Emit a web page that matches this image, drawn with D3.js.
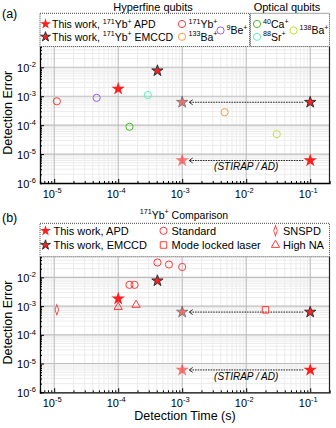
<!DOCTYPE html>
<html>
<head>
<meta charset="utf-8">
<script src="https://cdn.jsdelivr.net/npm/d3@7"></script>
<style>
  body { margin: 0; background: #fff; }
  svg { display: block; font-family: "Liberation Sans", Arial, sans-serif; }
</style>
</head>
<body>
<div id="chart"></div>
<script>
// ---- data ----
var xTicks = [1e-5, 1e-4, 1e-3, 1e-2, 1e-1];
var yTicks = [1e-6, 1e-5, 1e-4, 1e-3, 1e-2];
var xTickExp = ["-5", "-4", "-3", "-2", "-1"];
var yTickExp = ["-6", "-5", "-4", "-3", "-2"];

// this work: [time, error, faded]
var apdStars = [[1e-4, 1.8e-3, 0], [1e-3, 6e-6, 1], [1e-1, 6e-6, 0]];
var emccdStars = [[4.1e-4, 7.6e-3, 0], [1e-3, 6.2e-4, 1], [1e-1, 6.2e-4, 0]];
// arrows: [from time, to time, error]
var arrows = [[1e-1, 1e-3, 6.2e-4], [1e-1, 1e-3, 6e-6]];

// panel (a) other qubits
var yb171 = [[1.1e-5, 6.7e-4]];
var ba133 = [[4.6e-3, 2.8e-4]];
var be9 = [[4.6e-5, 8.8e-4]];
var ca40 = [[1.5e-4, 8.8e-5]];
var sr88 = [[2.9e-4, 1.1e-3]];
var ba138 = [[3.0e-2, 4.9e-5]];

// panel (b) 171Yb+ comparison
var standard = [[1.5e-4, 5.5e-3], [1.8e-4, 5.5e-3], [4.1e-4, 3.3e-2], [6.2e-4, 2.8e-2], [1e-3, 2.3e-2]];
var snspd = [[1.1e-5, 7.5e-4]];
var modeLocked = [[2e-2, 7.4e-4]];
var highNA = [[1e-4, 9.3e-4], [1.9e-4, 1.1e-3]];

var W = 336, H = 428;
var left = 40, right = 329.5;
var red = "#ff1f1f";

var svg = d3.select("#chart").append("svg")
  .attr("width", W).attr("height", H);

var x = d3.scaleLog().domain([6e-6, 0.2]).range([left, right]);

// text with ^{...} superscripts
function richText(g, str, size) {
  var parts = str.split(/(\^\{[^}]*\})/);
  var up = 0;
  parts.forEach(function(p) {
    if (!p) return;
    var m = p.match(/^\^\{(.*)\}$/);
    if (m) {
      g.append("tspan").attr("dy", -size * 0.4 - up).style("font-size", (size * 0.68) + "px").text(m[1]);
      up = -size * 0.4;
    } else {
      g.append("tspan").attr("dy", -up).style("font-size", size + "px").text(p);
      up = 0;
    }
  });
  return g;
}

function star(sz) { return d3.symbol().type(d3.symbolStar).size(sz)(); }

function drawStars(g, data, y, stroke, sz) {
  g.selectAll(null).data(data).enter().append("path")
    .attr("d", star(sz))
    .attr("transform", function(d) { return "translate(" + x(d[0]) + "," + y(d[1]) + ")"; })
    .attr("fill", red)
    .attr("stroke", stroke ? "#333" : "none")
    .attr("stroke-width", 1)
    .attr("opacity", function(d) { return d[2] ? 0.6 : 1; });
}

function drawMarks(g, data, y, shape, color) {
  var sel = g.selectAll(null).data(data).enter();
  if (shape == "circle") {
    sel.append("circle").attr("cx", function(d) { return x(d[0]); })
      .attr("cy", function(d) { return y(d[1]); }).attr("r", 3.6)
      .attr("fill", "none").attr("stroke", color).attr("stroke-width", 1);
  } else {
    var sym = shape == "square" ? d3.symbolSquare : shape == "triangle" ? d3.symbolTriangle : d3.symbolDiamond;
    var sz = shape == "square" ? 42 : shape == "triangle" ? 30 : 20;
    sel.append("path").attr("d", d3.symbol().type(sym).size(sz)())
      .attr("transform", function(d) {
        return "translate(" + x(d[0]) + "," + y(d[1]) + ")" + (shape == "diamond" ? " scale(0.75,1.25)" : "");
      })
      .attr("fill", "none").attr("stroke", color).attr("stroke-width", 1);
  }
}

function legendMark(g, shape, cx, cy, color, stroke) {
  if (shape == "star") {
    g.append("path").attr("d", star(stroke ? 30 : 36))
      .attr("transform", "translate(" + cx + "," + cy + ")")
      .attr("fill", red).attr("stroke", stroke ? "#333" : "none").attr("stroke-width", 1);
  } else {
    drawMarks(g, [[x.invert(cx), 0]], function() { return cy; }, shape, color);
  }
}

function drawPanel(top, bottom, marks, legendFn) {
  var y = d3.scaleLog().domain([1e-6, Math.pow(10, -1.28)]).range([bottom, top]);
  var g = svg.append("g");

  // minor grid
  var minorX = [], minorY = [];
  [-6, -5, -4, -3, -2, -1].forEach(function(e) {
    for (var k = 2; k <= 9; k++) {
      var v = k * Math.pow(10, e);
      if (v > x.domain()[0] && v < x.domain()[1]) minorX.push(v);
      if (v > y.domain()[0] && v < y.domain()[1]) minorY.push(v);
    }
  });
  g.selectAll(null).data(minorX).enter().append("line")
    .attr("x1", x).attr("x2", x).attr("y1", top).attr("y2", bottom)
    .attr("stroke", "#ececec").attr("stroke-width", 1);
  g.selectAll(null).data(minorY).enter().append("line")
    .attr("y1", y).attr("y2", y).attr("x1", left).attr("x2", right)
    .attr("stroke", "#ececec").attr("stroke-width", 1);
  // major grid
  g.selectAll(null).data(xTicks).enter().append("line")
    .attr("x1", x).attr("x2", x).attr("y1", top).attr("y2", bottom)
    .attr("stroke", "#bdbdbd").attr("stroke-width", 1.1);
  g.selectAll(null).data(yTicks.slice(1)).enter().append("line")
    .attr("y1", y).attr("y2", y).attr("x1", left).attr("x2", right)
    .attr("stroke", "#bdbdbd").attr("stroke-width", 1.1);

  // axes with inward ticks
  var yAxis = g.append("g").attr("transform", "translate(" + left + ",0)")
    .call(d3.axisRight(y).tickValues(minorY.concat(yTicks)).tickSize(2).tickFormat(""));
  yAxis.selectAll(".tick line").filter(function(d) { return yTicks.indexOf(d) >= 0; }).attr("x2", 4);
  var xAxis = g.append("g").attr("transform", "translate(0," + bottom + ")")
    .call(d3.axisTop(x).tickValues(minorX.concat(xTicks)).tickSize(2).tickFormat(""));
  xAxis.selectAll(".tick line").filter(function(d) { return xTicks.indexOf(d) >= 0; }).attr("y2", -4);
  g.selectAll(".domain").attr("stroke", "#000").attr("stroke-width", 1.3);
  g.append("line").attr("x1", right).attr("x2", right).attr("y1", top).attr("y2", bottom)
    .attr("stroke", "#222").attr("stroke-width", 1.2);

  // tick labels
  yTicks.forEach(function(v, i) {
    richText(g.append("text").attr("x", 36).attr("y", y(v) + 4.5).attr("text-anchor", "end"),
      "10^{" + yTickExp[i] + "}", 11);
  });
  xTicks.forEach(function(v, i) {
    richText(g.append("text").attr("x", x(v) - 2).attr("y", bottom + 14.5).attr("text-anchor", "middle"),
      "10^{" + xTickExp[i] + "}", 11);
  });

  g.append("text").attr("transform", "translate(12," + ((top + bottom) / 2 - 2) + ") rotate(-90)")
    .attr("text-anchor", "middle").style("font-size", "12.5px").text("Detection Error");

  // arrows
  arrows.forEach(function(a) {
    var x1 = x(a[0]) - 7, x2 = x(a[1]) + 7, yy = y(a[2]);
    g.append("line").attr("x1", x1).attr("x2", x2).attr("y1", yy).attr("y2", yy)
      .attr("stroke", "#222").attr("stroke-width", 1).attr("stroke-dasharray", "1.6,1");
    g.append("path").attr("d", "M" + (x2 + 3.5) + "," + (yy - 2.5) + "L" + x2 + "," + yy + "L" + (x2 + 3.5) + "," + (yy + 2.5))
      .attr("fill", "none").attr("stroke", "#222").attr("stroke-width", 0.9);
  });
  g.append("text").attr("x", x(1e-2)).attr("y", y(arrows[1][2]) + 10)
    .attr("text-anchor", "middle").style("font-size", "10px").style("font-style", "italic")
    .text("(STIRAP / AD)");

  marks(g, y);
  drawStars(g, emccdStars, y, true, 40);
  drawStars(g, apdStars, y, false, 56);

  // legend box along top
  legendFn(g);
}

function box(g, x0, y0, x1, y1) {
  g.append("rect").attr("x", x0).attr("y", y0).attr("width", x1 - x0).attr("height", y1 - y0)
    .attr("fill", "#fff").attr("stroke", "#444").attr("stroke-width", 1).attr("stroke-dasharray", "1,1");
}

function label(g, xx, yy, str, size) {
  return richText(g.append("text").attr("x", xx).attr("y", yy), str, size || 10.5);
}

// ---- panel (a) ----
drawPanel(46.5, 183, function(g, y) {
  drawMarks(g, yb171, y, "circle", "#ff3b3b");
  drawMarks(g, ba133, y, "circle", "#ff9a3c");
  drawMarks(g, be9, y, "circle", "#9b59ff");
  drawMarks(g, ca40, y, "circle", "#4cb82a");
  drawMarks(g, sr88, y, "circle", "#5ff0c0");
  drawMarks(g, ba138, y, "circle", "#c2e03a");
}, function(g) {
  box(g, 40, 13.3, 249.5, 46.5);
  box(g, 250.5, 13.3, 329.5, 46.5);
  legendMark(g, "star", 45.5, 24, red, false);
  label(g, 52, 27.7, "This work, ^{171}Yb^{+} APD");
  legendMark(g, "star", 45.5, 36.8, red, true);
  label(g, 52, 40.5, "This work, ^{171}Yb^{+} EMCCD");
  legendMark(g, "circle", 182, 24, "#ff3b3b");
  label(g, 188.5, 27.7, "^{171}Yb^{+}");
  legendMark(g, "circle", 182, 36.8, "#ff9a3c");
  label(g, 188.5, 40.5, "^{133}Ba^{+}");
  legendMark(g, "circle", 220.5, 30.5, "#9b59ff");
  label(g, 226.5, 34.2, "^{9}Be^{+}");
  legendMark(g, "circle", 257, 24, "#4cb82a");
  label(g, 263, 27.7, "^{40}Ca^{+}");
  legendMark(g, "circle", 257, 36.8, "#5ff0c0");
  label(g, 263, 40.5, "^{88}Sr^{+}");
  legendMark(g, "circle", 293.5, 30.5, "#c2e03a");
  label(g, 299.5, 34.2, "^{138}Ba^{+}");
  g.append("text").attr("x", 153).attr("y", 10.5).attr("text-anchor", "middle")
    .style("font-size", "11px").text("Hyperfine qubits");
  g.append("text").attr("x", 287).attr("y", 10.5).attr("text-anchor", "middle")
    .style("font-size", "11px").text("Optical qubits");
});

// ---- panel (b) ----
drawPanel(256.7, 392.3, function(g, y) {
  drawMarks(g, standard, y, "circle", "#ff3b3b");
  drawMarks(g, snspd, y, "diamond", "#ff3b3b");
  drawMarks(g, modeLocked, y, "square", "#ff3b3b");
  drawMarks(g, highNA, y, "triangle", "#ff3b3b");
}, function(g) {
  box(g, 40, 223.3, 329.5, 256.7);
  legendMark(g, "star", 45.5, 230.8, red, false);
  label(g, 53.5, 234.6, "This work, APD", 11);
  legendMark(g, "star", 45.5, 245, red, true);
  label(g, 53.5, 248.8, "This work, EMCCD", 11);
  legendMark(g, "circle", 163.5, 230.8, "#ff3b3b");
  label(g, 171.5, 234.6, "Standard", 11);
  legendMark(g, "square", 163.5, 245, "#ff3b3b");
  label(g, 171.5, 248.8, "Mode locked laser", 11);
  legendMark(g, "diamond", 275.5, 230.8, "#ff3b3b");
  label(g, 283, 234.6, "SNSPD", 11);
  legendMark(g, "triangle", 275.5, 245, "#ff3b3b");
  label(g, 283, 248.8, "High NA", 11);
  richText(g.append("text").attr("x", 184).attr("y", 218.5).attr("text-anchor", "middle"),
    "^{171}Yb^{+} Comparison", 10.5);
});

svg.append("text").attr("x", 185).attr("y", 420).attr("text-anchor", "middle")
  .style("font-size", "12.5px").text("Detection Time (s)");
svg.append("text").attr("x", 2).attr("y", 18).style("font-size", "12.5px").text("(a)");
svg.append("text").attr("x", 2).attr("y", 222).style("font-size", "12.5px").text("(b)");
</script>
</body>
</html>
